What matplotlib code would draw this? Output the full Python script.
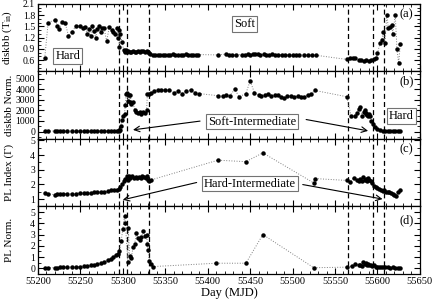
import numpy as np
import matplotlib
matplotlib.use("Agg")
import matplotlib.pyplot as plt
from matplotlib.ticker import MultipleLocator

plt.rcParams['font.family'] = ['Liberation Serif', 'DejaVu Serif']
plt.rcParams['mathtext.fontset'] = 'stix'

# panel (a): diskbb temperature
day_a = [55208, 55212, 55220, 55223, 55225, 55228, 55232, 55236, 55240, 55245,
         55249, 55253, 55256, 55258, 55260, 55262, 55264, 55266, 55268, 55270,
         55272, 55274, 55276, 55278, 55281, 55284, 55287, 55289, 55291, 55293,
         55294, 55295, 55296, 55297, 55299, 55301, 55302, 55303, 55304, 55305,
         55306, 55308, 55310, 55312, 55314, 55316, 55318, 55320, 55322, 55324,
         55326, 55328, 55330, 55331, 55332, 55335, 55338, 55341, 55344, 55347,
         55350, 55353, 55356, 55359, 55362, 55365, 55368, 55371, 55374, 55377,
         55380, 55383, 55386, 55389, 55412, 55421, 55425, 55429, 55433, 55440,
         55444, 55447, 55450, 55453, 55456, 55459, 55462, 55466, 55469, 55472,
         55476, 55479, 55483, 55487, 55491, 55496, 55500, 55504, 55508, 55513,
         55518, 55523, 55528, 55564, 55568, 55571, 55574, 55578, 55581, 55584,
         55587, 55590, 55593, 55596, 55598, 55600, 55603, 55605, 55607, 55609,
         55611, 55613, 55615, 55617, 55618, 55621, 55623, 55625, 55627]
tin = [0.65, 1.60, 1.68, 1.52, 1.42, 1.62, 1.60, 1.25, 1.35, 1.52,
       1.52, 1.45, 1.48, 1.30, 1.42, 1.25, 1.50, 1.38, 1.20, 1.42,
       1.50, 1.35, 1.45, 1.45, 1.10, 1.48, 1.40, 1.35, 1.30, 1.45,
       1.20, 1.40, 0.95, 1.30, 1.08, 0.88, 0.85, 0.83, 0.86, 0.82,
       0.84, 0.83, 0.82, 0.84, 0.83, 0.82, 0.85, 0.83, 0.84, 0.85,
       0.83, 0.84, 0.82, 0.78, 0.76, 0.75, 0.75, 0.74, 0.75, 0.75,
       0.74, 0.75, 0.75, 0.76, 0.75, 0.74, 0.75, 0.75, 0.76, 0.75,
       0.75, 0.74, 0.75, 0.75, 0.74, 0.76, 0.75, 0.75, 0.74, 0.75,
       0.75, 0.76, 0.75, 0.76, 0.77, 0.76, 0.75, 0.76, 0.75, 0.75,
       0.76, 0.75, 0.74, 0.75, 0.75, 0.74, 0.74, 0.75, 0.74, 0.74,
       0.74, 0.73, 0.73, 0.62, 0.67, 0.66, 0.65, 0.60, 0.60, 0.58,
       0.60, 0.58, 0.60, 0.62, 0.65, 0.78, 1.05, 1.13, 1.34, 1.07,
       1.80, 1.45, 1.49, 1.53, 1.30, 1.80, 0.90, 0.52, 1.04]

# panel (b): diskbb normalisation
day_b = [55208, 55212, 55220, 55223, 55226, 55230, 55234, 55240, 55245, 55250,
         55254, 55258, 55262, 55266, 55270, 55274, 55278, 55282, 55286, 55290,
         55293, 55295, 55296, 55297, 55298, 55299, 55300, 55302, 55303, 55304,
         55305, 55306, 55307, 55308, 55309, 55310, 55312, 55314, 55316, 55318,
         55320, 55322, 55324, 55326, 55328, 55329, 55331, 55333, 55337, 55341,
         55345, 55350, 55355, 55360, 55365, 55370, 55375, 55380, 55385, 55390,
         55412, 55418, 55422, 55426, 55432, 55437, 55445, 55450, 55455, 55460,
         55463, 55467, 55471, 55475, 55479, 55483, 55486, 55490, 55494, 55498,
         55502, 55506, 55510, 55514, 55518, 55522, 55526, 55564, 55569, 55573,
         55576, 55578, 55580, 55582, 55584, 55585, 55586, 55587, 55588, 55589,
         55590, 55591, 55593, 55595, 55597, 55600, 55603, 55606, 55609, 55612,
         55615, 55618, 55621, 55624, 55627]
norm_b = [60, 50, 40, 50, 40, 40, 50, 40, 40, 50,
          40, 50, 40, 50, 50, 40, 50, 50, 40, 50,
          60, 80, 100, 150, 530, 1140, 1480, 1700, 2500, 3600,
          3700, 2870, 3450, 2800, 3500, 2590, 2780, 2060, 1900, 1800,
          1900, 1700, 1900, 1750, 2000, 3600, 3600, 3700, 3820, 3900,
          3950, 3950, 3900, 3700, 3800, 3600, 3850, 3950, 3700, 3600,
          3400, 3350, 3450, 3400, 4000, 3300, 3600, 4800, 3700, 3500,
          3400, 3500, 3600, 3400, 3500, 3450, 3300, 3200, 3350, 3400,
          3300, 3350, 3300, 3300, 3450, 3550, 3900, 3300, 1450, 1500,
          1800, 2100, 2290, 1500, 1900, 2000, 1800, 1700, 1600, 1500,
          1650, 1500, 1000, 700, 400, 200, 100, 80, 80, 70,
          80, 70, 80, 70, 80]

# panel (c): power-law photon index
day_c = [55208, 55212, 55220, 55223, 55226, 55230, 55234, 55240, 55245, 55250,
         55254, 55258, 55262, 55266, 55270, 55274, 55278, 55282, 55286, 55290,
         55293, 55295, 55297, 55299, 55301, 55303, 55305, 55306, 55307, 55309,
         55311, 55313, 55315, 55317, 55319, 55321, 55323, 55325, 55327, 55329,
         55330, 55331, 55333, 55412, 55445, 55465, 55525, 55526, 55564, 55568,
         55572, 55576, 55578, 55580, 55582, 55583, 55585, 55586, 55588, 55589,
         55590, 55592, 55594, 55596, 55598, 55600, 55602, 55604, 55606, 55608,
         55610, 55612, 55614, 55616, 55618, 55620, 55622, 55624, 55627]
gamma = [1.40, 1.35, 1.30, 1.32, 1.35, 1.35, 1.38, 1.35, 1.38, 1.40,
         1.40, 1.40, 1.42, 1.45, 1.47, 1.45, 1.50, 1.52, 1.60, 1.62,
         1.65, 1.68, 1.80, 2.00, 2.20, 2.40, 2.55, 2.30, 2.60, 2.45,
         2.55, 2.45, 2.50, 2.45, 2.50, 2.45, 2.55, 2.50, 2.45, 2.55,
         2.30, 2.25, 2.30, 3.65, 3.55, 4.15, 2.10, 2.40, 2.27, 2.18,
         2.45, 2.30, 2.25, 2.35, 2.20, 2.50, 2.30, 2.40, 2.25, 2.45,
         2.30, 2.20, 2.10, 1.90, 1.80, 1.75, 1.70, 1.60, 1.55, 1.65,
         1.50, 1.45, 1.50, 1.40, 1.35, 1.30, 1.18, 1.50, 1.60]

# panel (d): power-law normalisation
day_d = [55208, 55212, 55220, 55223, 55226, 55230, 55234, 55240, 55245, 55250,
         55254, 55258, 55262, 55266, 55270, 55274, 55278, 55282, 55286, 55289,
         55292, 55294, 55296, 55298, 55300, 55302, 55303, 55306, 55306.5, 55308,
         55310, 55312, 55314, 55316, 55318, 55320, 55322, 55324, 55326, 55328,
         55329, 55330, 55331, 55333, 55335, 55410, 55445, 55465, 55525, 55564,
         55570, 55574, 55578, 55580, 55582, 55583, 55585, 55586, 55588, 55589,
         55590, 55592, 55594, 55596, 55598, 55600, 55602, 55604, 55606, 55609,
         55612, 55615, 55618, 55621, 55624, 55627]
norm_d = [0.05, 0.05, 0.05, 0.07, 0.08, 0.08, 0.10, 0.10, 0.12, 0.15,
          0.17, 0.20, 0.25, 0.30, 0.35, 0.45, 0.55, 0.70, 0.85, 1.00,
          1.15, 1.30, 1.50, 2.40, 3.45, 4.65, 4.00, 0.55, 3.55, 1.07,
          0.90, 1.85, 2.20, 3.10, 2.70, 2.55, 2.80, 3.30, 2.90, 3.00,
          2.15, 1.60, 0.68, 0.37, 0.15, 0.45, 0.45, 3.00, 0.05, 0.10,
          0.20, 0.40, 0.25, 0.30, 0.20, 0.55, 0.35, 0.45, 0.30, 0.40,
          0.25, 0.30, 0.20, 0.25, 0.15, 0.15, 0.10, 0.10, 0.10, 0.08,
          0.08, 0.07, 0.08, 0.07, 0.06, 0.06]

transitions = [55296, 55305, 55331, 55565, 55595, 55608]

fig, axes = plt.subplots(4, 1, figsize=(4.36, 3.03), dpi=100, sharex=True)
fig.subplots_adjust(left=0.087, right=0.963, top=0.987, bottom=0.096, hspace=0)

panels = [(day_a, tin), (day_b, norm_b), (day_c, gamma), (day_d, norm_d)]
ylabels = [r'diskbb (T$_{\rm in}$)', 'diskbb Norm.', 'PL Index (Γ)', 'PL Norm.']
ylims = [(0.3, 2.1), (-700, 5700), (0.5, 5.1), (-0.5, 5.5)]
yticks = [[0.6, 0.9, 1.2, 1.5, 1.8, 2.1], [0, 1000, 2000, 3000, 4000, 5000],
          [1, 2, 3, 4, 5], [0, 1, 2, 3, 4, 5]]
yminor = [0.1, 500, 0.5, 0.5]
tags = ['(a)', '(b)', '(c)', '(d)']
tag_y = [0.84, 0.85, 0.85, 0.80]

for i, ax in enumerate(axes):
    d, v = panels[i]
    ax.plot(d, v, ls=':', color='0.5', lw=0.7, marker='o', ms=2.2,
            mfc='black', mec='black', zorder=3)
    for t in transitions:
        ax.axvline(t, color='black', ls=(0, (4, 2.5)), lw=0.9, zorder=2)
    ax.set_ylim(*ylims[i])
    ax.set_yticks(yticks[i])
    ax.yaxis.set_minor_locator(MultipleLocator(yminor[i]))
    ax.set_ylabel(ylabels[i], fontsize=8)
    ax.yaxis.set_label_coords(-0.062, 0.5)
    ax.tick_params(which='both', direction='in', top=True, right=True,
                   labelsize=7, pad=2)
    ax.tick_params(which='major', length=4, width=0.8)
    ax.tick_params(which='minor', length=2, width=0.6)
    for s in ax.spines.values():
        s.set_linewidth(0.9)
    ax.text(0.965, tag_y[i], tags[i], transform=ax.transAxes, fontsize=9,
            ha='center', va='center')

axes[-1].set_xlim(55200, 55650)
axes[-1].xaxis.set_major_locator(MultipleLocator(50))
axes[-1].xaxis.set_minor_locator(MultipleLocator(10))
axes[-1].tick_params(axis='x', labelsize=7.5)
axes[-1].set_xlabel('Day (MJD)', fontsize=9, labelpad=1)

box = dict(boxstyle='square,pad=0.15', fc='white', ec='0.45', lw=0.8)
axes[0].text(55235, 0.72, 'Hard', fontsize=9, ha='center', va='center', bbox=box)
axes[0].text(55443, 1.56, 'Soft', fontsize=9, ha='center', va='center', bbox=box)
axes[1].text(55628, 1480, 'Hard', fontsize=9, ha='center', va='center', bbox=box)

arrow = dict(arrowstyle='->', color='black', lw=0.8, shrinkA=0, shrinkB=0)
axes[1].text(55452, 950, 'Soft-Intermediate', fontsize=9, ha='center',
             va='center', bbox=box, zorder=5)
axes[1].annotate('', xy=(55312, 160), xytext=(55391, 990), arrowprops=arrow)
axes[1].annotate('', xy=(55589, 65), xytext=(55516, 1140), arrowprops=arrow)

axes[2].text(55450, 2.06, 'Hard-Intermediate', fontsize=9, ha='center',
             va='center', bbox=box, zorder=5)
axes[2].annotate('', xy=(55300, 0.95), xytext=(55387, 2.13), arrowprops=arrow)
axes[2].annotate('', xy=(55606, 1.0), xytext=(55512, 1.99), arrowprops=arrow)

fig.savefig('out.png', dpi=100)
